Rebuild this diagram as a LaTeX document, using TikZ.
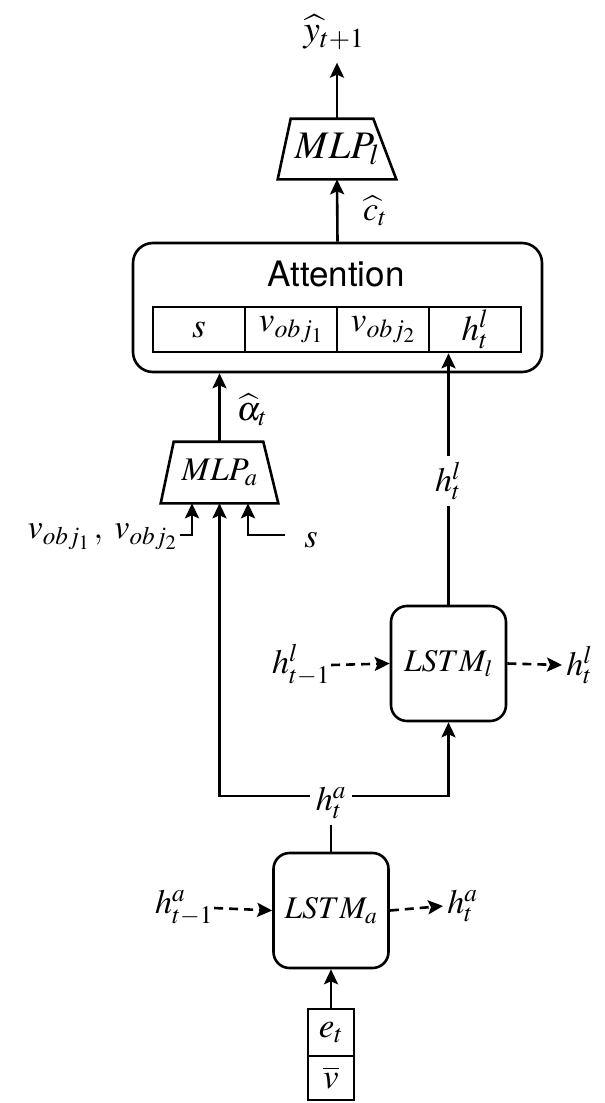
\documentclass[tikz,border=0pt]{standalone}
\usepackage{mathptmx}
\usepackage[no-math]{fontspec}
\newfontfamily\helv{TeX Gyre Heros}
\usetikzlibrary{arrows.meta}

\tikzset{
  lbl/.style={inner sep=0pt, font=\fontsize{34}{40}\selectfont},
  cell/.style={draw, minimum width=92pt, minimum height=45pt, inner sep=0pt,
    font=\fontsize{35}{40}\selectfont},
  lstmbox/.style={draw, rounded corners=16pt, minimum width=115pt,
    minimum height=115pt, inner sep=0pt, font=\fontsize{31.5}{36}\selectfont},
  mlpframe/.style={minimum width=116pt, minimum height=58pt, inner sep=0pt},
  flow/.style={->},
  recur/.style={->, dash pattern=on 9pt off 6pt},
}

\begin{document}
\begin{tikzpicture}[x=1pt, y=-1pt, line width=2.6pt, line join=miter,
  >={Stealth[length=15pt, width=14pt, inset=3pt]}]
\useasboundingbox (0,0) rectangle (605,1103);

% output and output MLP
\node[lbl, font=\fontsize{37}{42}\selectfont] (yhat) at (334,32) {$\widehat{y}_{t+1}$};
\node[mlpframe, font=\fontsize{39}{44}\selectfont] (mlpl) at (337,149) {$MLP_l$};
\draw (mlpl.south west) -- ([xshift=13pt]mlpl.north west)
      -- ([xshift=-23pt]mlpl.north east) -- (mlpl.south east) -- cycle;
\draw[flow, shorten >=12pt] (mlpl.north) -- (mlpl.north |- yhat.south);

% attention block
\node[draw, rounded corners=20pt, minimum width=409pt, minimum height=129pt,
  inner sep=0pt] (att) at (337.5,307.5) {};
\node[inner sep=0pt, font=\helv\fontsize{35}{40}\selectfont] (atttitle) at (336,274) {Attention};
\node[cell] (c1) at (199,329.5) {$s$};
\node[cell] (c2) at (291,329.5) {$v_{obj_1}$};
\node[cell] (c3) at (383,329.5) {$v_{obj_2}$};
\node[cell] (c4) at (475,329.5) {$h^l_t$};
\draw[flow] (att.north) -- (mlpl.south);
\node[lbl] (chat) at (375,211) {$\widehat{c}_t$};

% attention MLP
\node[mlpframe, minimum width=115pt, minimum height=59pt,
  font=\fontsize{33}{38}\selectfont] (mlpa) at (219.5,472.5) {$MLP_a$};
\draw (mlpa.south west) -- ([xshift=13pt]mlpa.north west)
      -- ([xshift=-15pt]mlpa.north east) -- (mlpa.south east) -- cycle;
\draw[flow] (mlpa.north) -- (mlpa.north |- att.south);
\node[lbl] (alpha) at (252,410) {$\widehat{\alpha}_t$};

\node[lbl, anchor=east, inner xsep=2pt] (vobj) at (180,537) {$v_{obj_1}\,,\; v_{obj_2}$};
\node[lbl, anchor=west, inner xsep=18pt] (sin) at (285,540) {$s$};
\draw[flow] (vobj.east |- 0,535) -| ([xshift=-27.5pt]mlpa.south);
\draw[flow] (sin.west |- 0,535) -| ([xshift=28.5pt]mlpa.south);

% language LSTM
\node[lstmbox] (lstml) at (448.5,663.5) {$LSTM_l$};
\node[lbl] (hlprev) at (301,665) {$h^l_{t-1}$};
\node[lbl, anchor=west, inner xsep=3pt] (hlnext) at (562,665) {$h^l_t$};
\draw[recur] (hlprev.east) -- (lstml.west);
\draw[recur] (lstml.east) -- (hlnext.west);
\node[lbl, inner sep=5pt] (hlmid) at (448,481) {$h^l_t$};
\draw (lstml.north) -- (lstml.north |- hlmid.south);
\draw[flow] (lstml.north |- hlmid.north) -- (lstml.north |- c4.south);

% attention LSTM
\node[lstmbox] (lstma) at (331,910.5) {$LSTM_a$};
\node[lbl] (haprev) at (184,908) {$h^a_{t-1}$};
\node[lbl, anchor=west, inner xsep=3pt] (hanext) at (443,906) {$h^a_t$};
\draw[recur] (haprev.east) -- (lstma.west);
\draw[recur] (lstma.east) -- (hanext.west);

% split of the attention LSTM state
\node[lbl, inner sep=5pt] (hamid) at (331,803) {$h^a_t$};
\coordinate (split) at (331,796);
\draw (lstma.north) -- (hamid.south);
\draw[flow] (hamid.west |- split) -| (mlpa.south);
\draw[flow] (hamid.east |- split) -| (lstml.south);

% input vector
\node[draw, minimum width=46pt, minimum height=47pt, inner sep=0pt, outer sep=0pt,
  font=\fontsize{35}{40}\selectfont] (et) at (331,1032.5) {$e_t$};
\node[draw, minimum width=46pt, minimum height=44pt, inner sep=0pt, outer sep=0pt,
  anchor=north, font=\fontsize{35}{40}\selectfont] (vbar) at (et.south) {$\overline{v}$};
\draw[flow] (et.north) -- (lstma.south);
\end{tikzpicture}
\end{document}
